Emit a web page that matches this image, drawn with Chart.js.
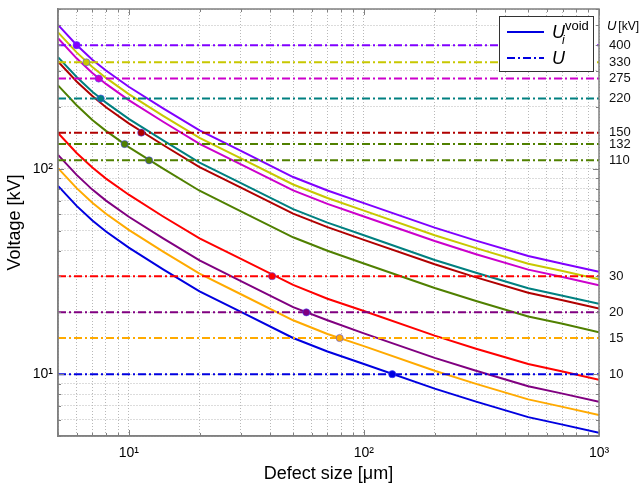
<!DOCTYPE html>
<html>
<head>
<meta charset="utf-8">
<script src="https://cdn.jsdelivr.net/npm/chart.js@4.4.1/dist/chart.umd.min.js"></script>
<style>
html, body { margin: 0; padding: 0; background: #fff; }
</style>
</head>
<body>
<canvas id="myChart" width="640" height="489"></canvas>
<script>
// defect size [um]
var defectSize = [5, 6, 7, 8, 10, 14, 20, 30, 50, 70, 100, 200, 300, 500, 700, 1000];

// void inception voltage curves [kV], one per cable voltage class
var ui10  = [82.6, 66, 56, 49.5, 41.3, 32.4, 25.3, 20.1, 15.0, 12.9, 11.2, 8.5, 7.35, 6.18, 5.68, 5.18];
var ui15  = [100.8, 80.5, 68.3, 60.4, 50.4, 39.5, 30.9, 24.5, 18.3, 15.7, 13.7, 10.4, 8.97, 7.54, 6.93, 6.32];
var ui20  = [116.9, 93.4, 79.2, 70.0, 58.4, 45.8, 35.8, 28.4, 21.2, 18.3, 15.8, 12.0, 10.4, 8.74, 8.04, 7.33];
var ui30  = [149.5, 119.5, 101.4, 89.6, 74.8, 58.6, 45.8, 36.4, 27.2, 23.3, 20.3, 15.4, 13.3, 11.2, 10.3, 9.38];
var ui110 = [255, 204, 173, 153, 127.6, 100.1, 78.2, 62.1, 46.4, 39.9, 34.6, 26.3, 22.7, 19.1, 17.6, 16.0];
var ui150 = [333, 266, 226, 199.5, 166.4, 130.6, 102.0, 81.0, 60.5, 52.0, 45.1, 34.3, 29.6, 24.9, 22.9, 20.9];
var ui220 = [350, 280, 237, 210, 175, 137.4, 107.3, 85.2, 63.6, 54.7, 47.5, 36.0, 31.2, 26.2, 24.1, 22.0];
var ui275 = [432, 345, 293, 259, 216, 169.5, 132.3, 105.1, 78.5, 67.5, 58.6, 44.5, 38.4, 32.3, 29.7, 27.1];
var ui330 = [462, 369, 313, 277, 231, 181, 141.4, 112.4, 83.9, 72.1, 62.6, 47.5, 41.1, 34.5, 31.8, 29.0];
var ui400 = [502, 401, 340, 301, 251, 197, 153.8, 122.2, 91.2, 78.4, 68.1, 51.7, 44.7, 37.6, 34.5, 31.5];

var curves = [ui10, ui15, ui20, ui30, ui110, ui150, ui220, ui275, ui330, ui400];
var curveColors = ['#0000e0', '#ffaa00', '#800080', '#ff0000', '#508000', '#b00000', '#008080', '#cc00cc', '#c8c800', '#8000ff'];

// operating voltages U [kV] and where they cross their curve
var levels = [10, 15, 20, 30, 110, 132, 150, 220, 275, 330, 400];
var levelColors = ['#0000e0', '#ffaa00', '#800080', '#ff0000', '#508000', '#508000', '#b00000', '#008080', '#cc00cc', '#c8c800', '#8000ff'];
var crossSize = [132, 78.9, 56.9, 40.7, 12.2, 9.6, 11.3, 7.6, 7.45, 6.6, 6.0];

// grid / ticks
var xGrid = [5, 6, 7, 8, 9, 10, 20, 30, 40, 50, 60, 70, 80, 90, 100, 200, 300, 400, 500, 600, 700, 800, 900, 1000];
var yGrid = [5, 6, 7, 8, 9, 10, 20, 30, 40, 50, 60, 70, 80, 90, 100, 200, 300, 400, 500, 600];
var xTickLabels = { 10: '10\u00b9', 100: '10\u00b2', 1000: '10\u00b3' };
var yTickLabels = { 10: '10\u00b9', 100: '10\u00b2' };

var dashDot = [8, 3, 2, 3];
var fontFam = "'Liberation Sans', Arial, sans-serif";

var datasets = [];
curves.forEach(function (c, k) {
    datasets.push({
        data: defectSize.map(function (x, i) { return { x: x, y: c[i] }; }),
        borderColor: curveColors[k],
        borderWidth: 2,
        pointRadius: 0,
        tension: 0,
        order: 3
    });
});
levels.forEach(function (u, k) {
    datasets.push({
        data: [{ x: 5, y: u }, { x: 1000, y: u }],
        borderColor: levelColors[k],
        borderWidth: 2,
        borderDash: dashDot,
        pointRadius: 0,
        order: 2
    });
});
datasets.push({
    data: crossSize.map(function (x, i) { return { x: x, y: levels[i] }; }),
    showLine: false,
    pointRadius: 3.6,
    pointBackgroundColor: levelColors,
    pointBorderColor: 'rgba(70,70,255,0.55)',
    pointBorderWidth: 1,
    order: 1
});

var gridStyle = { color: '#b8b8b8', lineWidth: 1, drawTicks: false };
var borderStyle = { display: true, color: '#808080', width: 1.5, dash: [1, 2] };

var framePlugin = {
    id: 'frame',
    afterDatasetsDraw: function (chart) {
        var ctx = chart.ctx, a = chart.chartArea;
        var xs = chart.scales.x, ys = chart.scales.y;
        ctx.save();
        ctx.strokeStyle = '#808080';
        ctx.lineWidth = 1;
        ctx.beginPath();
        xGrid.forEach(function (v) {
            var px = Math.round(xs.getPixelForValue(v)) + 0.5;
            var len = xTickLabels[v] ? 6 : 3;
            ctx.moveTo(px, a.bottom); ctx.lineTo(px, a.bottom - len);
            ctx.moveTo(px, a.top); ctx.lineTo(px, a.top + len);
        });
        yGrid.forEach(function (v) {
            var py = Math.round(ys.getPixelForValue(v)) + 0.5;
            var len = yTickLabels[v] ? 6 : 3;
            ctx.moveTo(a.left, py); ctx.lineTo(a.left + len, py);
            ctx.moveTo(a.right, py); ctx.lineTo(a.right - len, py);
        });
        ctx.stroke();
        ctx.lineWidth = 1.5;
        ctx.strokeRect(a.left, a.top, a.right - a.left, a.bottom - a.top);

        // legend
        ctx.fillStyle = '#fff';
        ctx.fillRect(499.5, 16.5, 94, 55);
        ctx.strokeStyle = '#333';
        ctx.lineWidth = 1;
        ctx.strokeRect(499.5, 16.5, 94, 55);
        ctx.strokeStyle = '#0000e0';
        ctx.lineWidth = 2;
        ctx.beginPath(); ctx.moveTo(507, 32); ctx.lineTo(544, 32); ctx.stroke();
        ctx.setLineDash(dashDot);
        ctx.beginPath(); ctx.moveTo(507, 58); ctx.lineTo(544, 58); ctx.stroke();
        ctx.setLineDash([]);
        ctx.fillStyle = '#000';
        ctx.textBaseline = 'alphabetic';
        ctx.textAlign = 'left';
        ctx.font = 'italic 18px ' + fontFam;
        ctx.fillText('U', 552, 38);
        ctx.fillText('U', 552, 64);
        ctx.font = '13px ' + fontFam;
        ctx.fillText('void', 565, 30);
        ctx.font = 'italic 12px ' + fontFam;
        ctx.fillText('i', 562, 44);

        // header of the right labels
        ctx.font = 'italic 13px ' + fontFam;
        ctx.fillText('U', 607, 30);
        ctx.font = '12px ' + fontFam;
        ctx.fillText(' [kV]', 615, 30);
        ctx.restore();
    }
};

var myChart = document.getElementById('myChart').getContext('2d');
var defectChart = new Chart(myChart, {
    type: 'line',
    data: { datasets: datasets },
    options: {
        responsive: false,
        animation: false,
        layout: { padding: { top: 9, left: 0, right: 0, bottom: 0 } },
        plugins: { legend: { display: false }, tooltip: { enabled: false } },
        scales: {
            x: {
                type: 'logarithmic',
                min: 5,
                max: 1000,
                afterBuildTicks: function (scale) { scale.ticks = xGrid.map(function (v) { return { value: v }; }); },
                afterFit: function (scale) { scale.height = 53; scale.paddingLeft = 0; scale.paddingRight = 0; },
                ticks: {
                    autoSkip: false, maxRotation: 0, padding: 9, color: '#000',
                    font: { family: fontFam, size: 14 },
                    callback: function (v) { return xTickLabels[v] || ''; }
                },
                grid: gridStyle,
                border: borderStyle,
                title: {
                    display: true, text: 'Defect size [\u03bcm]', color: '#000',
                    font: { family: fontFam, size: 18 }, padding: { top: 0, bottom: 4 }
                }
            },
            y: {
                type: 'logarithmic',
                position: 'left',
                min: 5,
                max: 600,
                afterBuildTicks: function (scale) { scale.ticks = yGrid.map(function (v) { return { value: v }; }); },
                afterFit: function (scale) { scale.width = 58; scale.paddingTop = 0; scale.paddingBottom = 0; },
                ticks: {
                    autoSkip: false, padding: 5, color: '#000',
                    font: { family: fontFam, size: 14 },
                    callback: function (v) { return yTickLabels[v] || ''; }
                },
                grid: gridStyle,
                border: borderStyle,
                title: {
                    display: true, text: 'Voltage [kV]', color: '#000',
                    font: { family: fontFam, size: 18 }, padding: { top: 4, bottom: 0 }
                }
            },
            yLevels: {
                type: 'logarithmic',
                position: 'right',
                min: 5,
                max: 600,
                afterBuildTicks: function (scale) { scale.ticks = levels.map(function (v) { return { value: v }; }); },
                afterFit: function (scale) { scale.width = 41; scale.paddingTop = 0; scale.paddingBottom = 0; },
                ticks: {
                    autoSkip: false, padding: 10, color: '#111',
                    font: { family: fontFam, size: 13 },
                    callback: function (v) { return String(v); }
                },
                grid: { display: false, drawTicks: false },
                border: { display: false }
            }
        }
    },
    plugins: [framePlugin]
});
</script>
</body>
</html>
